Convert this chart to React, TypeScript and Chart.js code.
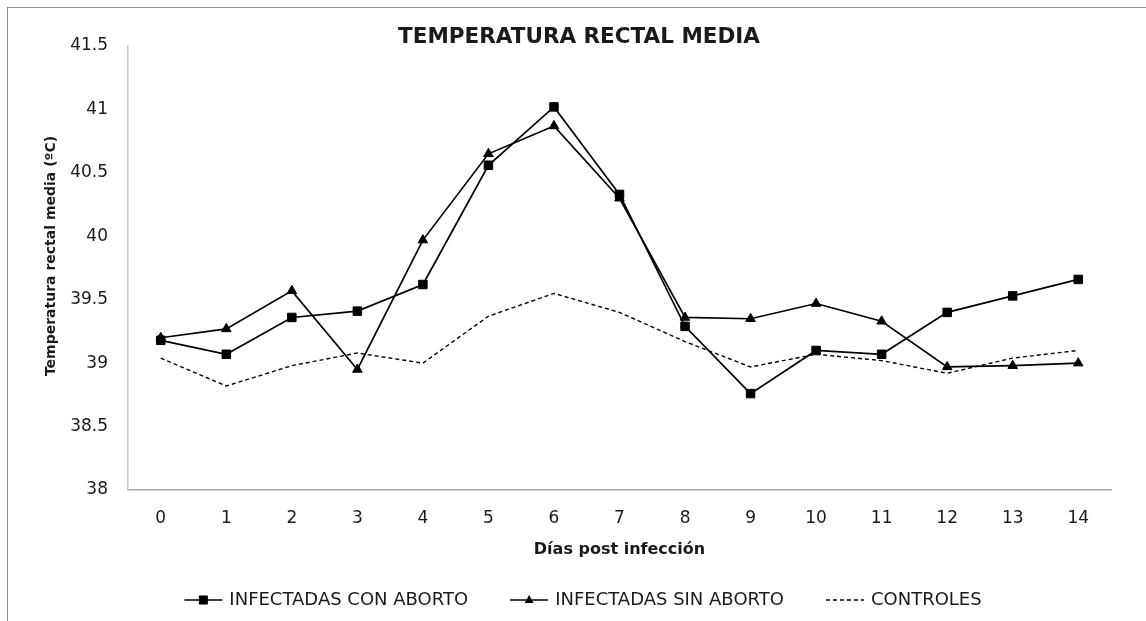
import React, { useEffect, useRef } from "react";
import { Chart, registerables } from "chart.js";

Chart.register(...registerables);

const days = ["0", "1", "2", "3", "4", "5", "6", "7", "8", "9", "10", "11", "12", "13", "14"];
const conAborto = [39.18, 39.07, 39.36, 39.41, 39.62, 40.56, 41.02, 40.33, 39.29, 38.76, 39.10, 39.07, 39.40, 39.53, 39.66];
const sinAborto = [39.20, 39.27, 39.57, 38.95, 39.97, 40.65, 40.87, 40.30, 39.36, 39.35, 39.47, 39.33, 38.97, 38.98, 39.00];
const controles = [39.04, 38.82, 38.98, 39.08, 39.00, 39.37, 39.55, 39.40, 39.17, 38.97, 39.07, 39.02, 38.92, 39.04, 39.10];
const seriesNames = ["INFECTADAS CON ABORTO", "INFECTADAS SIN ABORTO", "CONTROLES"];
const chartTitle = "TEMPERATURA RECTAL MEDIA";
const xTitle = "Días post infección";
const yTitle = "Temperatura rectal media (ºC)";

const FONT = '"DejaVu Sans", sans-serif';
const TEXT = "#1a1a1a";

const textPlugin = {
  id: "textDecor",
  afterDraw(chart: any) {
    const ctx = chart.ctx;
    const area = chart.chartArea;
    ctx.save();
    ctx.fillStyle = TEXT;
    ctx.textBaseline = "middle";
    ctx.textAlign = "center";
    ctx.font = `bold 21.5px ${FONT}`;
    ctx.fillText(chartTitle, 571, 29);
    ctx.font = `bold 16px ${FONT}`;
    ctx.fillText(xTitle, (area.left + area.right) / 2, 542);
    ctx.save();
    ctx.font = `bold 14px ${FONT}`;
    ctx.translate(43, 248);
    ctx.rotate(-Math.PI / 2);
    ctx.fillText(yTitle, 0, 0);
    ctx.restore();

    // legend
    ctx.font = `18px ${FONT}`;
    const lineW = 38, gapText = 7, gapItem = 42;
    const widths = chart.data.datasets.map((d: any) => lineW + gapText + ctx.measureText(d.label).width);
    const total = widths.reduce((a: number, b: number) => a + b, 0) + gapItem * (widths.length - 1);
    let x = 575 - total / 2;
    const y = 592;
    chart.data.datasets.forEach((d: any, i: number) => {
      ctx.save();
      ctx.strokeStyle = d.borderColor;
      ctx.lineWidth = d.borderWidth;
      ctx.setLineDash(d.borderDash || []);
      ctx.beginPath();
      ctx.moveTo(x, y);
      ctx.lineTo(x + lineW, y);
      ctx.stroke();
      ctx.setLineDash([]);
      ctx.fillStyle = "#000";
      const cx = x + lineW / 2;
      if (d.pointStyle === "rect") {
        ctx.fillRect(cx - 4.5, y - 4.5, 9, 9);
      } else if (d.pointStyle === "triangle") {
        ctx.beginPath();
        ctx.moveTo(cx, y - 5);
        ctx.lineTo(cx + 4.5, y + 3);
        ctx.lineTo(cx - 4.5, y + 3);
        ctx.closePath();
        ctx.fill();
      }
      ctx.restore();
      ctx.fillStyle = TEXT;
      ctx.textAlign = "left";
      ctx.fillText(d.label, x + lineW + gapText, y);
      x += widths[i] + gapItem;
    });
    ctx.restore();
  },
};

export default function App() {
  const ref = useRef<HTMLCanvasElement>(null);
  useEffect(() => {
    if (!ref.current) return;
    const chart = new Chart(ref.current, {
      type: "line",
      data: {
        labels: days,
        datasets: [
          {
            label: seriesNames[0],
            data: conAborto,
            borderColor: "#000",
            backgroundColor: "#000",
            borderWidth: 1.7,
            pointStyle: "rect",
            pointRadius: 6,
            pointBorderWidth: 1,
            tension: 0,
          },
          {
            label: seriesNames[1],
            data: sinAborto,
            borderColor: "#000",
            backgroundColor: "#000",
            borderWidth: 1.7,
            pointStyle: "triangle",
            pointRadius: 5.5,
            pointBorderWidth: 1,
            tension: 0,
          },
          {
            label: seriesNames[2],
            data: controles,
            borderColor: "#000",
            backgroundColor: "#000",
            borderWidth: 1.4,
            borderDash: [4, 3],
            pointRadius: 0,
            tension: 0,
          },
        ],
      },
      options: {
        animation: false,
        responsive: false,
        devicePixelRatio: 1,
        layout: { padding: { top: 38, right: 35, bottom: 0, left: 0 } },
        plugins: {
          legend: { display: false },
          title: { display: false },
          tooltip: { enabled: false },
        },
        scales: {
          x: {
            type: "category",
            offset: true,
            grid: { display: true, drawOnChartArea: false, drawTicks: false },
            border: { display: true, color: "#a6a6a6", width: 1.5 },
            ticks: { color: TEXT, font: { family: FONT, size: 17 }, padding: 18, maxRotation: 0 },
            afterFit: (s: any) => { s.height = 131; },
          },
          y: {
            min: 38,
            max: 41.5,
            grid: { display: true, drawOnChartArea: false, drawTicks: false },
            border: { display: true, color: "#c8c8c8", width: 1.5 },
            ticks: {
              stepSize: 0.5,
              color: TEXT,
              font: { family: FONT, size: 17 },
              padding: 20,
              callback: (v: any) => String(Number(v)),
            },
            afterFit: (s: any) => { s.width = 120; },
          },
        },
      },
      plugins: [textPlugin],
    });
    return () => chart.destroy();
  }, []);
  return (
    <div
      style={{
        position: "absolute",
        left: 7,
        top: 7,
        width: 1138,
        height: 613,
        borderLeft: "1px solid #8c8c8c",
        borderTop: "1px solid #8c8c8c",
        background: "#fff",
        overflow: "hidden",
      }}
    >
      <canvas ref={ref} width={1138} height={613} style={{ display: "block", width: 1138, height: 613 }} />
    </div>
  );
}
